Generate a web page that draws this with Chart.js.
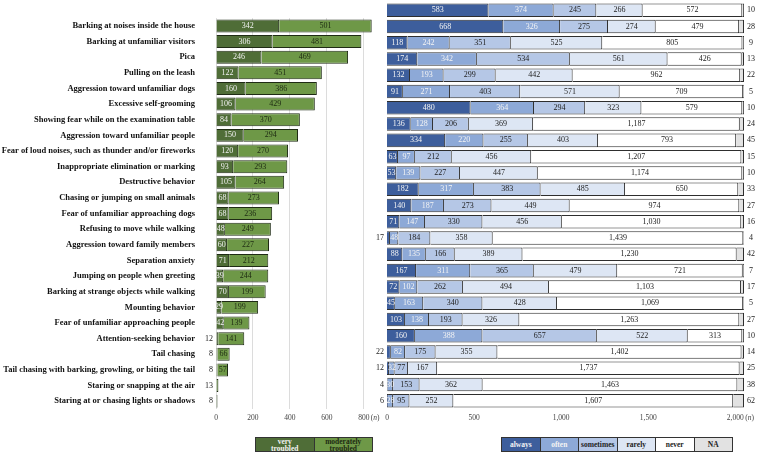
<!DOCTYPE html>
<html>
<head>
<meta charset="utf-8">
<script src="https://cdn.jsdelivr.net/npm/chart.js@4/dist/chart.umd.min.js"></script>
<style>
  body { margin: 0; background: #fff; }
  #wrap { position: relative; width: 759px; height: 455px; overflow: hidden; font-family: "Liberation Serif", serif; }
  canvas { position: absolute; top: 0; }
  #left { left: 0; }
  #right { left: 360px; }
  .legend { position: absolute; top: 437px; height: 15px; display: flex; border: 1px solid #333; box-sizing: border-box; }
  .legend div { flex: 1; font-weight: bold; font-size: 7.5px; text-align: center; border-right: 1px solid #333; overflow: hidden; box-sizing: border-box; }
  .legend div:last-child { border-right: none; }
  #legL { left: 255px; width: 118px; }
  #legL div { line-height: 6.6px; padding-top: 1px; white-space: pre; }
  #legR { left: 501px; width: 232px; }
  #legR div { line-height: 13px; }
</style>
</head>
<body>
<div id="wrap">
  <canvas id="left" width="390" height="430"></canvas>
  <canvas id="right" width="399" height="430"></canvas>
  <div class="legend" id="legL"></div>
  <div class="legend" id="legR"></div>
</div>
<script>
const behaviors = [
  'Barking at noises inside the house',
  'Barking at unfamiliar visitors',
  'Pica',
  'Pulling on the leash',
  'Aggression toward unfamiliar dogs',
  'Excessive self-grooming',
  'Showing fear while on the examination table',
  'Aggression toward unfamiliar people',
  'Fear of loud noises, such as thunder and/or fireworks',
  'Inappropriate elimination or marking',
  'Destructive behavior',
  'Chasing or jumping on small animals',
  'Fear of unfamiliar approaching dogs',
  'Refusing to move while walking',
  'Aggression toward family members',
  'Separation anxiety',
  'Jumping on people when greeting',
  'Barking at strange objects while walking',
  'Mounting behavior',
  'Fear of unfamiliar approaching people',
  'Attention-seeking behavior',
  'Tail chasing',
  'Tail chasing with barking, growling, or biting the tail',
  'Staring or snapping at the air',
  'Staring at or chasing lights or shadows'
];

// left panel: how troubled the owner is
const veryTroubled       = [342, 306, 246, 122, 160, 106, 84, 150, 120, 93, 105, 68, 68, 48, 60, 71, 39, 70, 29, 42, 12, 8, 8, 0, 8];
const moderatelyTroubled = [501, 481, 469, 451, 386, 429, 370, 294, 270, 293, 264, 273, 236, 249, 227, 212, 244, 199, 199, 139, 141, 66, 57, 13, 0];

// right panel: frequency
const always    = [583, 668, 118, 174, 132, 91, 480, 136, 334, 63, 53, 182, 140, 71, 17, 88, 167, 72, 45, 103, 160, 22, 12, 4, 6];
const often     = [374, 326, 242, 342, 193, 271, 364, 128, 220, 97, 139, 317, 187, 147, 48, 135, 311, 102, 163, 138, 388, 82, 32, 30, 28];
const sometimes = [245, 275, 351, 534, 299, 403, 294, 206, 255, 212, 227, 383, 273, 330, 184, 166, 365, 262, 340, 193, 657, 175, 77, 153, 95];
const rarely    = [266, 274, 525, 561, 442, 571, 323, 369, 403, 456, 447, 485, 449, 456, 358, 389, 479, 494, 428, 326, 522, 355, 167, 362, 252];
const never     = [572, 479, 805, 426, 962, 709, 579, 1187, 793, 1207, 1174, 650, 974, 1030, 1439, 1230, 721, 1103, 1069, 1263, 313, 1402, 1737, 1463, 1607];
const na        = [10, 28, 9, 13, 22, 5, 10, 24, 45, 15, 10, 33, 27, 16, 4, 42, 7, 17, 5, 27, 10, 14, 25, 38, 62];

const leftTicks = [0, 200, 400, 600, 800];
const rightTicks = [0, 500, 1000, 1500, 2000];

const troubleNames = ['very\ntroubled', 'moderately\ntroubled'];
const freqNames = ['always', 'often', 'sometimes', 'rarely', 'never', 'NA'];

const FONT = '"Liberation Serif", "DejaVu Serif", serif';

const valueLabels = {
  id: 'valueLabels',
  afterDatasetsDraw(chart, args, opts) {
    const { ctx, chartArea } = chart;
    const sets = chart.data.datasets;
    ctx.save();
    ctx.font = '8px ' + FONT;
    ctx.textBaseline = 'middle';
    sets.forEach((ds, di) => {
      const meta = chart.getDatasetMeta(di);
      meta.data.forEach((bar, i) => {
        const v = ds.data[i];
        if (!v) return;
        const txt = v.toLocaleString('en-US');
        let before = 0;
        for (let k = 0; k < di; k++) before += sets[k].data[i];
        if (opts.naOutside && di === sets.length - 1) {
          ctx.fillStyle = '#222';
          ctx.textAlign = 'center';
          ctx.fillText(txt, chartArea.right + 7, bar.y);
        } else if (before === 0 && v < 25) {
          ctx.fillStyle = '#222';
          ctx.textAlign = 'right';
          ctx.fillText(txt, chartArea.left - 3, bar.y);
        } else {
          ctx.fillStyle = ds.labelColor;
          ctx.textAlign = 'center';
          ctx.fillText(txt, (bar.x + bar.base) / 2, bar.y);
        }
      });
    });
    // (n) unit label next to the last tick
    const xs = chart.scales.x;
    const y = chartArea.bottom + 9;
    const x0 = xs.getPixelForValue(opts.lastTick) + opts.unitGap;
    ctx.fillStyle = '#444';
    ctx.textAlign = 'left';
    ctx.font = '7.5px ' + FONT;
    ctx.fillText('(', x0, y);
    let w = ctx.measureText('(').width;
    ctx.font = 'italic 7.5px ' + FONT;
    ctx.fillText('n', x0 + w, y);
    w += ctx.measureText('n').width;
    ctx.font = '7.5px ' + FONT;
    ctx.fillText(')', x0 + w, y);
    ctx.restore();
  }
};

function xAxis(max, ticks, fmt, grid) {
  return {
    type: 'linear', min: 0, max: max, stacked: true,
    border: { display: false },
    grid: { display: grid, color: '#dcdcdc', drawTicks: false },
    afterBuildTicks: s => { s.ticks = ticks.map(v => ({ value: v })); },
    afterFit: s => { s.height = 20; },
    ticks: { padding: 5, color: '#444', font: { family: FONT, size: 7.5 }, callback: fmt }
  };
}

new Chart(document.getElementById('left'), {
  type: 'bar',
  data: {
    labels: behaviors,
    datasets: [
      { label: 'very troubled', data: veryTroubled, backgroundColor: '#4f6d37', borderColor: '#1f2b15', borderWidth: 1, labelColor: '#f2f2f2' },
      { label: 'moderately troubled', data: moderatelyTroubled, backgroundColor: '#6e9847', borderColor: '#1f2b15', borderWidth: 1, labelColor: '#1d2a12' }
    ]
  },
  options: {
    indexAxis: 'y', responsive: false, animation: false,
    barPercentage: 0.83, categoryPercentage: 1,
    layout: { padding: { top: 2, bottom: 1, right: 17, left: 0 } },
    plugins: { legend: { display: false }, tooltip: { enabled: false },
      valueLabels: { naOutside: false, lastTick: 800, unitGap: 7 } },
    scales: {
      x: xAxis(850, leftTicks, v => v, true),
      y: {
        stacked: true,
        border: { display: false },
        grid: { display: false },
        afterFit: s => { s.width = 216; },
        ticks: { autoSkip: false, padding: 13, color: '#111', font: { family: FONT, size: 8.5, weight: 'bold' } }
      }
    }
  },
  plugins: [valueLabels]
});

const blues = ['#3d5e9c', '#8da9d7', '#b5c7e6', '#dde6f4', '#ffffff', '#e2e2e2'];
const blueText = ['#f4f4f4', '#f4f4f4', '#222', '#222', '#222', '#222'];
const freqData = [always, often, sometimes, rarely, never, na];

new Chart(document.getElementById('right'), {
  type: 'bar',
  data: {
    labels: behaviors,
    datasets: freqData.map((d, i) => ({
      label: freqNames[i], data: d, backgroundColor: blues[i],
      borderColor: '#2e2e2e', borderWidth: 1, labelColor: blueText[i]
    }))
  },
  options: {
    indexAxis: 'y', responsive: false, animation: false,
    barPercentage: 0.83, categoryPercentage: 1,
    layout: { padding: { top: 2, bottom: 1, right: 15, left: 27 } },
    plugins: { legend: { display: false }, tooltip: { enabled: false },
      valueLabels: { naOutside: true, lastTick: 2000, unitGap: 10 } },
    scales: {
      x: xAxis(2050, rightTicks, v => v.toLocaleString('en-US'), false),
      y: { stacked: true, display: false }
    }
  },
  plugins: [valueLabels]
});

// legends
const legL = document.getElementById('legL');
const greens = ['#4f6d37', '#6e9847'];
const greenText = ['#f2f2f2', '#1d2a12'];
troubleNames.forEach((n, i) => {
  const d = document.createElement('div');
  d.textContent = n;
  d.style.background = greens[i];
  d.style.color = greenText[i];
  legL.appendChild(d);
});
const legR = document.getElementById('legR');
freqNames.forEach((n, i) => {
  const d = document.createElement('div');
  d.textContent = n;
  d.style.background = blues[i];
  d.style.color = blueText[i];
  legR.appendChild(d);
});
</script>
</body>
</html>
